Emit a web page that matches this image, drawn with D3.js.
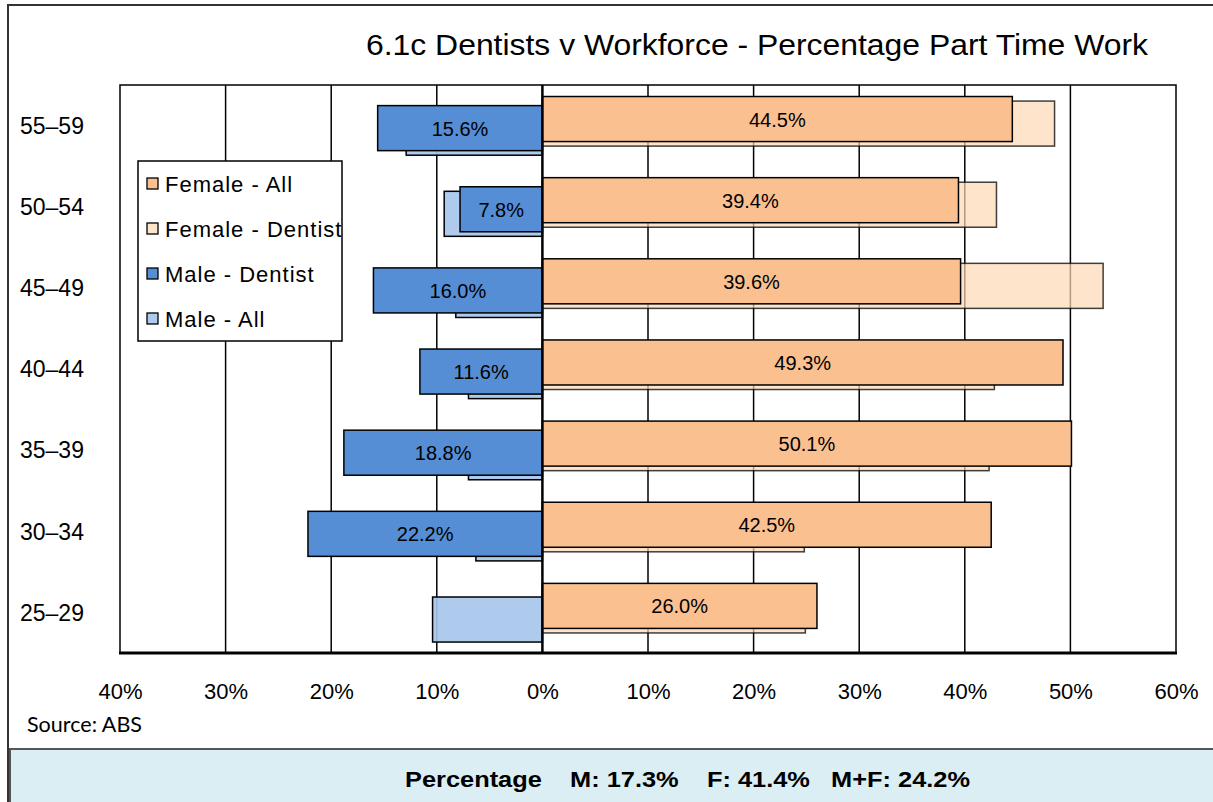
<!DOCTYPE html>
<html>
<head>
<meta charset="utf-8">
<script src="https://cdn.jsdelivr.net/npm/d3@7"></script>
<style>
  html, body { margin: 0; padding: 0; background: #fff; }
  svg { display: block; }
  text { font-family: "Liberation Sans", Arial, sans-serif; fill: #000; }
</style>
</head>
<body>
<svg id="chart" width="1213" height="802"></svg>
<script>
// ---- data ----
const categories = ["55–59", "50–54", "45–49", "40–44", "35–39", "30–34", "25–29"];
const femaleAll = [44.5, 39.4, 39.6, 49.3, 50.1, 42.5, 26.0];
const femaleDentist = [48.5, 43.0, 53.1, 42.8, 42.3, 24.8, 24.9];
const maleDentist = [15.6, 7.8, 16.0, 11.6, 18.8, 22.2, null];
const maleAll = [12.9, 9.3, 8.2, 7.0, 7.0, 6.3, 10.4];
const seriesNames = ["Female - All", "Female - Dentist", "Male - Dentist", "Male - All"];
const tickValues = [-40, -30, -20, -10, 0, 10, 20, 30, 40, 50, 60];
const titleText = "6.1c Dentists v Workforce - Percentage Part Time Work";
const sourceText = "Source: ABS";
const summaryText = "Percentage\u00A0\u00A0\u00A0 M: 17.3%\u00A0\u00A0\u00A0 F: 41.4%\u00A0\u00A0 M+F: 24.2%";

// ---- styling ----
const colors = {
  "Female - All": "#FAC090",
  "Female - Dentist": "#FDD9B5",
  "Male - Dentist": "#558ED5",
  "Male - All": "#A7C5EB"
};
const fillOpacity = {"Female - All": 1, "Female - Dentist": 0.7, "Male - Dentist": 1, "Male - All": 0.92};

const svg = d3.select("#chart");

// outer frame
svg.append("rect").attr("x", 8).attr("y", 5).attr("width", 1220).attr("height", 810)
  .attr("fill", "#fff").attr("stroke", "#333").attr("stroke-width", 2);

// bottom summary box
svg.append("rect").attr("x", 10).attr("y", 749).attr("width", 1220).attr("height", 70)
  .attr("fill", "#DAEEF3").attr("stroke", "#555").attr("stroke-width", 2);
svg.append("text").attr("x", 405).attr("y", 787)
  .attr("font-size", 22).attr("font-weight", "bold")
  .attr("textLength", 565).attr("lengthAdjust", "spacingAndGlyphs")
  .text(summaryText);

// scales
const x = d3.scaleLinear().domain([-40, 60]).range([120, 1176]);
const y = d3.scaleBand().domain(categories).range([85, 653]).padding(0);
const bw = y.bandwidth();
const inner = d3.scalePoint().domain(seriesNames).range([bw * 0.142, bw * 0.31]);
const barH = bw * 0.555;

const plot = svg.append("g");

// gridlines
plot.selectAll("line.grid").data(tickValues.filter(v => v !== -40 && v !== 60 && v !== 0))
  .enter().append("line").attr("class", "grid")
  .attr("x1", d => x(d)).attr("x2", d => x(d))
  .attr("y1", 85).attr("y2", 653)
  .attr("stroke", "#000").attr("stroke-width", 1.5);

// series data
function rows(name, vals, sign) {
  return categories.map((c, i) => ({cat: c, v: vals[i], name, sign})).filter(d => d.v != null);
}
const layers = [
  rows("Male - All", maleAll, -1),
  rows("Female - Dentist", femaleDentist, 1),
  rows("Male - Dentist", maleDentist, -1),
  rows("Female - All", femaleAll, 1)
];

layers.forEach(data => {
  plot.append("g").selectAll("rect").data(data).enter().append("rect")
    .attr("x", d => d.sign > 0 ? x(0) : x(-d.v))
    .attr("width", d => Math.abs(x(d.v) - x(0)))
    .attr("y", d => y(d.cat) + inner(d.name))
    .attr("height", barH)
    .attr("fill", d => colors[d.name])
    .attr("fill-opacity", d => fillOpacity[d.name])
    .attr("stroke", "#000")
    .attr("stroke-opacity", d => d.name === "Female - Dentist" ? 0.75 : 1)
    .attr("stroke-width", 1.5);
});

// zero line
plot.append("line").attr("x1", x(0)).attr("x2", x(0)).attr("y1", 85).attr("y2", 653)
  .attr("stroke", "#000").attr("stroke-width", 2.5);

// plot border
plot.append("rect").attr("x", x(-40)).attr("y", 85).attr("width", x(60) - x(-40)).attr("height", 568)
  .attr("fill", "none").attr("stroke", "#000").attr("stroke-width", 1.5);
plot.append("line").attr("x1", x(-40) - 1).attr("x2", x(60) + 1).attr("y1", 653).attr("y2", 653)
  .attr("stroke", "#000").attr("stroke-width", 3);

// value labels on front bars
const labelled = layers[2].concat(layers[3]);
plot.append("g").selectAll("text").data(labelled).enter().append("text")
  .attr("x", d => (x(0) + x(d.sign * d.v)) / 2)
  .attr("y", d => y(d.cat) + inner(d.name) + barH / 2)
  .attr("dy", "0.38em")
  .attr("text-anchor", "middle")
  .attr("font-size", 20)
  .attr("fill", "#111")
  .text(d => d.v.toFixed(1) + "%");

// x axis
const xAxis = d3.axisBottom(x).tickValues(tickValues).tickSize(0)
  .tickFormat(d => Math.abs(d) + "%");
const gx = svg.append("g").attr("transform", "translate(0,653)").call(xAxis);
gx.select(".domain").remove();
gx.selectAll("text").attr("font-size", 22).attr("font-family", "Liberation Sans, Arial, sans-serif")
  .attr("fill", "#000").attr("y", 46).attr("dy", 0);

// y axis labels
const yAxis = d3.axisLeft(y).tickSize(0);
const gy = svg.append("g").attr("transform", "translate(20,0)").call(yAxis);
gy.select(".domain").remove();
gy.selectAll("text").attr("font-size", 23).attr("font-family", "Liberation Sans, Arial, sans-serif")
  .attr("fill", "#000").attr("text-anchor", "start").attr("x", 0).attr("dy", "0.36em");

// title
svg.append("text").attr("x", 366).attr("y", 55).attr("font-size", 29)
  .attr("textLength", 782).attr("lengthAdjust", "spacingAndGlyphs")
  .text(titleText);

// source
svg.append("text").attr("x", 27).attr("y", 732).attr("font-size", 21)
  .style("font-family", "Lato, 'Open Sans', sans-serif")
  .attr("textLength", 115).attr("lengthAdjust", "spacingAndGlyphs")
  .text(sourceText);

// legend
const legend = svg.append("g");
legend.append("rect").attr("x", 138).attr("y", 161).attr("width", 204).attr("height", 180)
  .attr("fill", "#fff").attr("stroke", "#000").attr("stroke-width", 1.5);
const li = legend.selectAll("g.item").data(seriesNames).enter().append("g").attr("class", "item")
  .attr("transform", (d, i) => `translate(0,${192 + i * 45})`);
li.append("rect").attr("x", 147).attr("y", -14).attr("width", 11).attr("height", 11)
  .attr("fill", d => colors[d]).attr("fill-opacity", d => fillOpacity[d])
  .attr("stroke", "#000").attr("stroke-width", 1.3);
li.append("text").attr("x", 165).attr("y", 0).attr("font-size", 22)
  .attr("letter-spacing", 1).text(d => d);
</script>
</body>
</html>
